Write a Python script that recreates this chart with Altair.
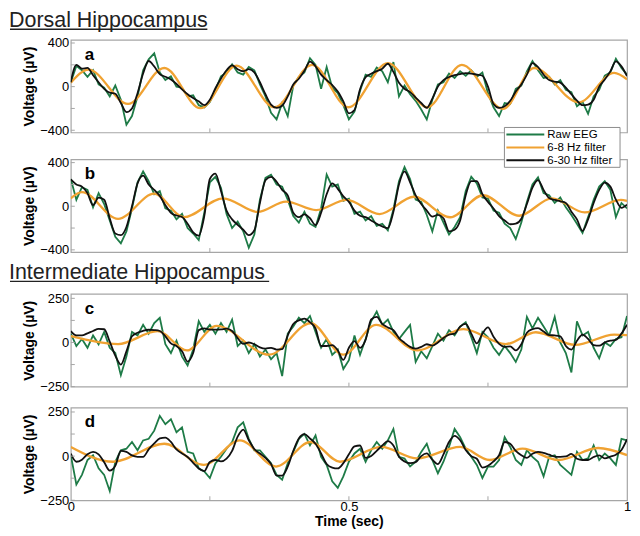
import altair as alt
import pandas as pd

# ---------------- data ----------------
TIME = [i / 100 for i in range(101)]  # sample times (s), 10 ms steps

A_RAW = [40, 190, 150, 90, 150, 20, -10, -90, 10, -120,
         -350, -270, -90, 150, 250, 305, 130, 60, 95, 0,
         -10, -90, -80, -170, -190, -140, -30, 95, 130, 205,
         130, 110, 180, 150, 20, -90, -240, -300, -150, -270,
         10, 90, 130, 260, 200, -20, 180, -10, -60, -170,
         -300, -230, -40, 110, 90, 175, 140, 40, 225, -90,
         10, -70, -130, -210, -300, -120, 20, 40, 120, 80,
         140, 100, 150, 90, 130, -60, -190, -270, -150, -160,
         -20, 10, 140, 235, 150, 80, 90, 20, 60, -30,
         -50, -180, -140, -250, -90, -30, 100, 130, 255, 170,
         110]
A_FAST = [40, 200, 165, 172, 105, 40, -20, -55, -65, -150,
          -234, -200, -60, 120, 235, 185, 115, 91, 66, 25,
          -25, -70, -105, -135, -170, -120, -15, 75, 150, 195,
          160, 141, 160, 130, 40, -70, -165, -195, -175, -90,
          20, 72, 145, 230, 186, 110, 60, 15, -45, -135,
          -245, -215, -24, 86, 118, 142, 165, 210, 135, 35,
          -20, -50, -100, -150, -195, -110, 0, 60, 88, 105,
          115, 124, 120, 110, 100, 0, -160, -195, -180, -130,
          -45, 20, 110, 216, 180, 110, 60, 46, 36, -10,
          -70, -129, -170, -165, -120, 0, 65, 140, 231, 186,
          96]
A_SLOW_T = [0, 0.032, 0.103, 0.168, 0.233, 0.298, 0.366, 0.434, 0.499,
            0.570, 0.641, 0.703, 0.777, 0.833, 0.913, 0.977, 1.0]
A_SLOW_V = [36, 156, -159, 171, -198, 192, -189, 200, -189,
            216, -189, 200, -204, 171, -144, 126, 66]

B_RAW = [250, 60, 175, 150, -10, 120, 20, -130, -280, -340,
         -230, -20, 220, 320, 230, 110, 140, -20, -40, -120,
         -70, -200, -250, -310, -60, 220, 270, 170, -70, -200,
         -140, -230, -380, -260, 60, 260, 290, 200, 180, 60,
         -90, -150, -50, -160, -190, -20, 290, 180, 200, 50,
         70, -70, -50, -130, -90, -180, -160, -220, -30, 230,
         360, 250, 60, 40, -80, -230, -40, -150, -260, -190,
         -100, 140, 270, 210, 80, 70, -40, -60, -160, -200,
         -300, -150, 40, 200, 265, 120, 100, 30, 80, -10,
         -80, -160, -245, -100, 60, 180, 230, 150, -100, 30,
         -20]
B_FAST = [246, 200, 180, 120, 10, 80, 60, -110, -250, -265,
          -190, 0, 210, 280, 200, 150, 95, 10, -60, -85,
          -98, -160, -240, -270, -90, 250, 300, 140, -40, -120,
          -170, -215, -265, -220, 30, 240, 270, 225, 150, 100,
          -60, -100, -75, -110, -173, -60, 110, 210, 160, 90,
          40, -40, -87, -100, -130, -160, -185, -200, -50, 200,
          320, 220, 100, 20, -40, -95, -80, -110, -230, -215,
          -130, 100, 230, 230, 110, 40, -20, -90, -130, -165,
          -160, -115, 20, 170, 240, 150, 75, 58, 45, 30,
          -50, -120, -225, -120, 30, 150, 216, 180, 60, -14,
          15]
B_SLOW_T = [0, 0.020, 0.085, 0.150, 0.203, 0.274, 0.336, 0.387, 0.441, 0.496,
            0.555, 0.617, 0.682, 0.741, 0.806, 0.865, 0.924, 0.989, 1.0]
B_SLOW_V = [73, 130, -115, 116, -100, 73, -52, 43, -35, 58,
            -72, 87, -101, 101, -87, 73, -57, 58, 50]

C_RAW = [50, -20, 20, -30, 40, -10, 60, -30, -60, -185,
         -80, 60, 40, 100, 50, 110, 140, -10, -60, 10,
         -80, -130, -40, 120, 60, 100, 50, 110, 60, 130,
         -20, 10, -60, -10, -80, -40, -95, -60, -190, 50,
         90, 140, 110, 150, 60, -30, 20, -70, -40, -150,
         -100, 40, -70, 20, 120, 175, 100, 130, 60, 20,
         60, 100, -110, -50, -90, -20, 50, 10, 70, 40,
         90, 115, 30, -60, 60, 30, -30, -70, -20, -60,
         -110, -40, 145, 80, 140, 90, 40, 145, 0, -60,
         -170, 120, 40, 60, -30, -90, 0, -20, 20, 30,
         150]
C_FAST = [64, 40, 40, 52, 65, 77, 75, 5, -75, -125,
          -50, 35, 55, 66, 72, 70, 65, 35, -5, -20,
          -50, -108, -60, 70, 80, 73, 73, 74, 78, 65,
          25, -8, 0, -10, -28, -35, -30, -40, -38, 40,
          105, 125, 135, 115, 80, -20, -20, -15, -45, -99,
          -30, 8, -30, 15, 130, 145, 105, 85, 70, 25,
          -2, -25, -35, -25, -10, -18, 0, 25, 45, 50,
          90, 105, 50, -5, 50, 85, 32, -8, -25, -22,
          -45, -10, 55, 75, 81, 62, 42, 40, 35, -20,
          -40, 10, 45, 20, -15, -18, 0, 10, 15, 50,
          100]
C_SLOW_T = [0, 0.085, 0.156, 0.209, 0.262, 0.357, 0.431, 0.490, 0.549,
            0.623, 0.706, 0.782, 0.836, 0.907, 0.977, 1.0]
C_SLOW_V = [36, -9, 64, -45, 94, -69, 109, -69, 100,
            -45, 76, -9, 58, -14, 45, 42]

D_RAW = [5, -160, -106, -22, 5, -69, -106, -198, -32, 33,
         42, 80, 33, 89, 98, 144, 228, 181, 209, 135,
         163, 24, 15, -69, -87, -124, -41, -4, 42, 80,
         163, 191, 98, 33, 33, -4, -41, -106, -134, -41,
         24, 98, 126, 61, 117, -4, -50, -143, -180, -115,
         -32, 15, 42, -32, 33, 80, 42, 89, 154, -4,
         -13, -59, -32, 24, 70, -22, -97, -32, 52, 154,
         107, 42, -4, -50, -124, -59, -59, -22, 107, 52,
         -22, -50, 33, -4, -32, -115, -4, 5, -50, -78,
         -106, 24, -22, -13, 61, -22, 15, -13, -50, 98,
         89]
D_FAST = [14, -32, -20, 10, 24, 10, -35, -82, -55, 30,
          24, 4, -4, -4, 38, 72, 100, 105, 80, 38,
          15, -5, -38, -70, -85, -33, -22, -30, -14, 30,
          110, 150, 90, 40, 15, -10, -45, -110, -110, -60,
          30, 100, 124, 100, 70, 15, -45, -65, -70, -40,
          10, 55, 60, -10, 0, 30, 60, 85, 60, -4,
          -30, -40, -34, 0, 15, -20, -45, 10, 80, 115,
          90, 35, 0, -15, -65, -55, -30, 5, 80, 70,
          30, 5, -10, 13, 24, 18, 8, -3, -4, -2,
          13, -15, -22, -22, -5, 4, -13, -3, 8, 35,
          95]
D_SLOW_T = [0, 0.076, 0.168, 0.239, 0.304, 0.369, 0.431, 0.484, 0.558,
            0.623, 0.700, 0.753, 0.812, 0.877, 0.948, 1.0]
D_SLOW_V = [52, -32, 70, -50, 89, -59, 80, -32, 52,
            -13, 52, -22, 42, -22, 46, 6]

SERIES = ["Raw EEG", "6-8 Hz filter", "6-30 Hz filter"]
SECTIONS = ["Dorsal Hippocampus", "Intermediate Hippocampus"]
X_LABELS = [0, 0.5, 1]
X_TICKS = [0.25, 0.5, 0.75]
DORSAL_LABELS = [400, 0, -400]
DORSAL_TICKS = [400, 200, 0, -200, -400]
INTER_LABELS = [250, 0, -250]
INTER_TICKS = [250, 125, 0, -125, -250]

# ---------------- style ----------------
GREEN = "#1e7b47"
ORANGE = "#f0a232"
BLACK = "#111111"
FRAME = "#a6a6a6"
FONT = "Liberation Sans"
W = 558
H = 93
LEFT = -62  # section titles start this far left of the plot area


def one(**kw):
    return pd.DataFrame({k: [v] for k, v in kw.items()})


def panel(raw, fast, slow_t, slow_v, domain, labels, ticks, letter, bottom,
          extra=None):
    xs = alt.Scale(domain=[0, 1], nice=False, zero=False)
    ys = alt.Scale(domain=domain, nice=False, zero=False)
    if bottom:
        xax = alt.Axis(values=X_LABELS, format="~g", title="Time (sec)",
                       labelPadding=0, titlePadding=1, labelFlush=False)
    else:
        xax = None
    yax = alt.Axis(values=labels, title="Voltage (µV)", labelFlush=False)
    X = alt.X("t:Q", scale=xs, axis=xax)
    Y = alt.Y("v:Q", scale=ys, axis=yax)

    raw_df = pd.DataFrame({"t": TIME, "v": raw, "s": SERIES[0]})
    slow_df = pd.DataFrame({"t": slow_t, "v": slow_v, "s": SERIES[1]})
    fast_df = pd.DataFrame({"t": TIME, "v": fast, "s": SERIES[2]})

    layers = [
        alt.Chart(raw_df).mark_line(color=GREEN, strokeWidth=1.8, clip=True)
        .encode(x=X, y=Y),
        alt.Chart(slow_df).mark_line(color=ORANGE, strokeWidth=2.3, clip=True,
                                     interpolate="monotone").encode(x=X, y=Y),
        alt.Chart(fast_df).mark_line(color=BLACK, strokeWidth=1.8, clip=True,
                                     interpolate="monotone").encode(x=X, y=Y),
        alt.Chart(pd.DataFrame({"v": ticks})).mark_rule(color=FRAME, strokeWidth=1)
        .encode(y=Y, x=alt.value(0), x2=alt.value(4)),
        alt.Chart(pd.DataFrame({"t": X_TICKS})).mark_rule(color=FRAME, strokeWidth=1)
        .encode(x=X, y=alt.value(H), y2=alt.value(H - 4)),
        alt.Chart(one(s=letter)).mark_text(font=FONT, fontSize=17, fontWeight="bold",
                                           align="left", baseline="alphabetic",
                                           color="#000")
        .encode(x=alt.value(14), y=alt.value(20), text="s:N"),
    ]
    if extra:
        layers += extra
    return alt.layer(*layers).properties(width=W, height=H)


def section(text, y_base, width):
    return [
        alt.Chart(one(s=text)).mark_text(font=FONT, fontSize=21.5, align="left",
                                         baseline="alphabetic", color="#222")
        .encode(x=alt.value(LEFT), y=alt.value(y_base), text="s:N"),
        alt.Chart(one(s=text)).mark_rule(color="#222", strokeWidth=1.3)
        .encode(x=alt.value(LEFT + 1), x2=alt.value(LEFT + 1 + width),
                y=alt.value(y_base + 2.5)),
    ]


def legend_layers():
    out = [
        alt.Chart(one(s="box")).mark_rect(fill="white", stroke="#8c8c8c",
                                          strokeWidth=1)
        .encode(x=alt.value(435), x2=alt.value(551), y=alt.value(-32),
                y2=alt.value(8)),
    ]
    rows = [(-25, GREEN), (-12, ORANGE), (1, BLACK)]
    for (yy, col), lab in zip(rows, SERIES):
        out.append(alt.Chart(one(s=lab)).mark_rule(color=col, strokeWidth=2)
                   .encode(x=alt.value(437), x2=alt.value(475), y=alt.value(yy)))
        out.append(alt.Chart(one(s=lab)).mark_text(font=FONT, fontSize=11.5,
                                                   align="left", baseline="middle",
                                                   color="#000")
                   .encode(x=alt.value(478), y=alt.value(yy + 0.5), text="s:N"))
    return out


def spacer(h):
    return (alt.Chart(one(t=0)).mark_point(opacity=0)
            .encode(x=alt.X("t:Q", axis=None), y=alt.value(0))
            .properties(width=W, height=h,
                        view=alt.ViewBackground(stroke="transparent")))


pa = panel(A_RAW, A_FAST, A_SLOW_T, A_SLOW_V, [-420, 430], DORSAL_LABELS,
           DORSAL_TICKS, "a", False, extra=section(SECTIONS[0], -13, 198))
pb = panel(B_RAW, B_FAST, B_SLOW_T, B_SLOW_V, [-420, 430], DORSAL_LABELS,
           DORSAL_TICKS, "b", False, extra=legend_layers())
pc = panel(C_RAW, C_FAST, C_SLOW_T, C_SLOW_V, [-250, 275], INTER_LABELS,
           INTER_TICKS, "c", False, extra=section(SECTIONS[1], -15, 260))
pd_ = panel(D_RAW, D_FAST, D_SLOW_T, D_SLOW_V, [-250, 275], INTER_LABELS,
            INTER_TICKS, "d", True)

chart = (
    alt.vconcat(pa, spacer(27), pb, spacer(42), pc, spacer(21), pd_,
                spacing=0, bounds="flush")
    .properties(padding=0)
    .configure_view(stroke=FRAME, strokeWidth=1.2)
    .configure_axis(labelFont=FONT, titleFont=FONT, labelFontSize=13,
                    titleFontSize=14, titleFontWeight="bold", labelColor="#000",
                    titleColor="#000", grid=False, domain=False, ticks=False,
                    labelPadding=2, titlePadding=3, labelFlush=False)
)

chart.save("out.html", embed_options={"renderer": "svg", "actions": False})
